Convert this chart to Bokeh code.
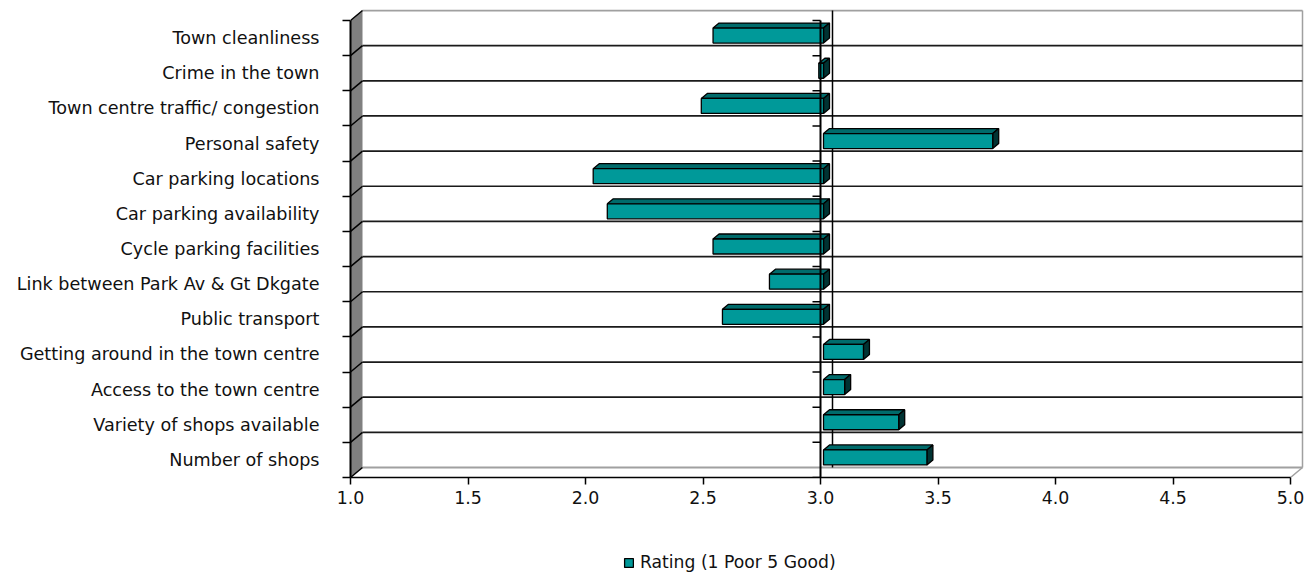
from bokeh.plotting import figure
from bokeh.layouts import column
from bokeh.models import Range1d, FixedTicker, NumeralTickFormatter, Legend, LegendItem
from bokeh.embed import file_html
from bokeh.resources import INLINE

# ---- data (top to bottom as displayed) ----
categories = [
    "Town cleanliness",
    "Crime in the town",
    "Town centre traffic/ congestion",
    "Personal safety",
    "Car parking locations",
    "Car parking availability",
    "Cycle parking facilities",
    "Link between Park Av & Gt Dkgate",
    "Public transport",
    "Getting around in the town centre",
    "Access to the town centre",
    "Variety of shops available",
    "Number of shops",
]
ratings = [2.53, 2.98, 2.48, 3.72, 2.02, 2.08, 2.53, 2.77, 2.57, 3.17, 3.09, 3.32, 3.44]
x_ticks = [1.0, 1.5, 2.0, 2.5, 3.0, 3.5, 4.0, 4.5, 5.0]
series_name = "Rating (1 Poor 5 Good)"
crossing = 3.0

FONT = "DejaVu Sans"
TEAL = "#009999"
TEAL_TOP = "#006b6b"
TEAL_SIDE = "#003333"

W, H1, H2 = 1304, 520, 52
FL, FT = 350, 9
frame_w, frame_h = W - FL, 468
n = len(categories)
PX_X = 235.0                  # pixels per rating unit
PX_Y = 457.0 / n              # pixels per category band
DX = 12.0 / PX_X              # 3-D depth offset in data units
DY = 10.0 / PX_Y
x0r, x1r = x_ticks[0], x_ticks[0] + frame_w / PX_X
y0r, y1r = 0.0, frame_h / PX_Y
xmax = x_ticks[-1]

p = figure(width=W, height=H1, output_backend="svg", toolbar_location=None,
           x_range=Range1d(x0r, x1r), y_range=Range1d(y0r, y1r),
           min_border_left=FL, min_border_right=0, min_border_top=FT,
           min_border_bottom=H1 - FT - frame_h)
p.outline_line_color = None
p.xgrid.visible = False
p.ygrid.visible = False
p.background_fill_color = "white"
p.border_fill_color = "white"

# ---- walls ----
p.patch([x0r, x0r, x0r + DX, x0r + DX], [0, n, n + DY, DY],
        fill_color="#808080", line_color=None)
grey = "#a0a0a0"
p.segment(x0=[x0r + DX], y0=[DY], x1=[xmax + DX], y1=[DY], line_color=grey, line_width=2)
p.segment(x0=[x0r + DX], y0=[n + DY], x1=[xmax + DX], y1=[n + DY], line_color=grey, line_width=2)
p.segment(x0=[xmax], y0=[0], x1=[xmax + DX], y1=[DY], line_color=grey, line_width=1.5)
p.segment(x0=[xmax + DX], y0=[DY], x1=[xmax + DX], y1=[n + DY], line_color=grey, line_width=1.5)

ks = list(range(n + 1))
# back-wall gridlines
p.segment(x0=[x0r + DX] * (n - 1), y0=[k + DY for k in range(1, n)],
          x1=[xmax + DX] * (n - 1), y1=[k + DY for k in range(1, n)],
          line_color="#1a1a1a", line_width=1.7)
# side-wall diagonals
p.segment(x0=[x0r] * len(ks), y0=ks, x1=[x0r + DX] * len(ks), y1=[k + DY for k in ks],
          line_color="black", line_width=1.5)
# back line of the category axis
p.segment(x0=[crossing + DX], y0=[DY], x1=[crossing + DX], y1=[n + DY],
          line_color="black", line_width=1.5)

# ---- bars ----
f, b = 0.25, 0.75
hh = 0.427 / 2
lefts, rights, bottoms, tops = [], [], [], []
top_xs, top_ys, side_xs, side_ys = [], [], [], []
for i, v in enumerate(ratings):
    xa, xb = min(v, crossing), max(v, crossing)
    yc = n - i - 0.5
    ylo, yhi = yc - hh, yc + hh
    lefts.append(xa + f * DX); rights.append(xb + f * DX)
    bottoms.append(ylo + f * DY); tops.append(yhi + f * DY)
    top_xs.append([xa + f * DX, xb + f * DX, xb + b * DX, xa + b * DX])
    top_ys.append([yhi + f * DY, yhi + f * DY, yhi + b * DY, yhi + b * DY])
    side_xs.append([xb + f * DX, xb + b * DX, xb + b * DX, xb + f * DX])
    side_ys.append([ylo + f * DY, ylo + b * DY, yhi + b * DY, yhi + f * DY])

p.patches(top_xs, top_ys, fill_color=TEAL_TOP, line_color="black", line_width=1.3)
p.patches(side_xs, side_ys, fill_color=TEAL_SIDE, line_color="black", line_width=1.3)
front = p.quad(left=lefts, right=rights, bottom=bottoms, top=tops,
               fill_color=TEAL, line_color="black", line_width=1.3)

# ---- category axis at the crossing value ----
p.segment(x0=[crossing], y0=[0], x1=[crossing], y1=[n], line_color="black", line_width=2)
p.segment(x0=[crossing - 8.0 / PX_X] * len(ks), y0=ks, x1=[crossing] * len(ks), y1=ks,
          line_color="black", line_width=1.5)

# ---- axes ----
xa = p.xaxis[0]
xa.ticker = FixedTicker(ticks=x_ticks)
xa.formatter = NumeralTickFormatter(format="0.0")
xa.bounds = (x_ticks[0], x_ticks[-1])
xa.axis_line_color = "black"
xa.axis_line_width = 1.5
xa.major_tick_out = 7
xa.major_tick_in = 0
xa.major_tick_line_color = "black"
xa.major_tick_line_width = 1.5
xa.minor_tick_line_color = None
xa.major_label_text_font = FONT
xa.major_label_text_font_size = "17.4px"
xa.major_label_text_color = "#111111"
xa.major_label_standoff = 6

ya = p.yaxis[0]
centers = [n - i - 0.5 for i in range(n)]
ya.ticker = FixedTicker(ticks=centers, minor_ticks=[float(k) for k in ks])
ya.major_label_overrides = {c: name for c, name in zip(centers, categories)}
ya.bounds = (0, n)
ya.axis_line_color = "black"
ya.axis_line_width = 2
ya.major_tick_out = 0
ya.major_tick_in = 0
ya.major_tick_line_color = None
ya.minor_tick_out = 8
ya.minor_tick_in = 0
ya.minor_tick_line_color = "black"
ya.minor_tick_line_width = 1.5
ya.major_label_text_font = FONT
ya.major_label_text_font_size = "17.6px"
ya.major_label_text_color = "#111111"
ya.major_label_standoff = 23

# ---- legend strip (frame aligned with the chart above) ----
p2 = figure(width=W, height=H2, output_backend="svg", toolbar_location=None,
            x_range=Range1d(0, 1), y_range=Range1d(0, 1),
            min_border=0, x_axis_type=None, y_axis_type=None)
p2.outline_line_color = None
p2.xgrid.visible = False
p2.ygrid.visible = False
# swatch renderer kept outside the visible range; only its legend glyph shows
swatch = p2.quad(left=[-3], right=[-2], bottom=[-3], top=[-2],
                 fill_color=TEAL, line_color="black", line_width=1.3)
legend = Legend(items=[LegendItem(label=series_name, renderers=[swatch])],
                location=(273, 0), orientation="horizontal",
                border_line_color=None, background_fill_alpha=0,
                padding=0, margin=0, spacing=0,
                glyph_width=11, glyph_height=11, label_standoff=6,
                label_text_font=FONT, label_text_font_size="17.2px",
                label_text_color="#111111")
p2.add_layout(legend, "center")

open("out.html", "w").write(file_html(column(p, p2, spacing=0), INLINE))
